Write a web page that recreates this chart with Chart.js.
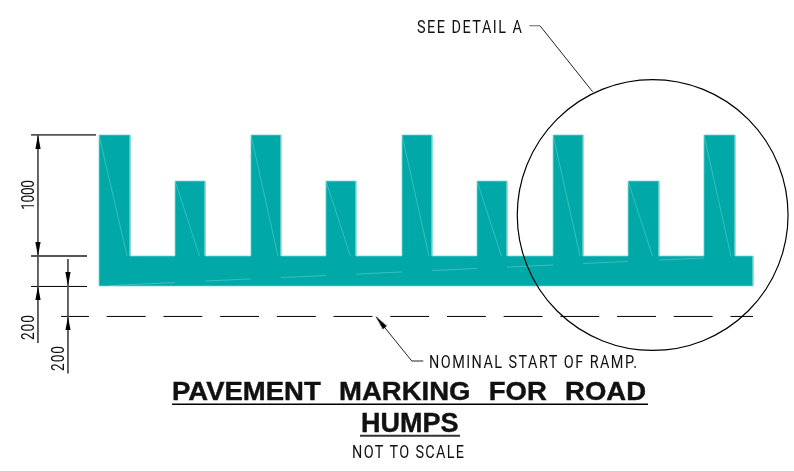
<!DOCTYPE html>
<html>
<head>
<meta charset="utf-8">
<style>
  html, body { margin: 0; padding: 0; background: #fff; }
  canvas { display: block; }
</style>
<script src="https://cdn.jsdelivr.net/npm/chart.js@4"></script>
</head>
<body>
<canvas id="chart" width="794" height="472"></canvas>
<script>
// drawing units: x from the left end of the marking, y from its bottom edge
const toothLeft  = [0, 507, 1013, 1513, 2020, 2520, 3027, 3527, 4033];
const toothRight = [207, 707, 1213, 1713, 2220, 2720, 3227, 3733, 4240];
const toothTop   = [1007, 700, 1007, 700, 1007, 700, 1007, 700, 1007];
const toothSeamFoot = [187, 670, 1193, 1676, 2200, 2683, 3207, 3690, 4213];
const baseTop = 200;
const baseEnd = 4360;

const baseSeamX = [73, 507, null, 707, 1013, null, 1213, 1513, null, 1713, 2020, null, 2220, 2520, null, 2720, 3027, null, 3227, 3527, null, 3733, 4033];
const baseSeamY = [3, 23, null, 33, 47, null, 56, 70, null, 79, 94, null, 103, 117, null, 126, 140, null, 150, 164, null, 173, 187];

const rampX = [-253, 4360];
const rampY = [-203, -203];

const upperExtensionX = [-453, -20, null, -453, -80];
const upperExtensionY = [1007, 1007, null, 200, 200];
const lowerExtensionX = [-453, -80];
const lowerExtensionY = [-3, -3];

const dimOneX = [-407, -407];
const dimOneY = [1007, -380];
const dimTwoX = [-207, -207];
const dimTwoY = [180, -583];

const arrowX = [-407, -407, -407, -207, -207, 1847];
const arrowY = [1007, 200, 0, 0, -203, -205];
const arrowTurn = [0, 180, 0, 180, 0, -39];

const rampLeaderX = [1847, 2085, 2162];
const rampLeaderY = [-205, -500, -500];
const detailStubX = [2869, 2940];
const detailStubY = [1735, 1735];
const detailLeaderX = [2940, 3291];
const detailLeaderY = [1735, 1295];
const detailCircleX = [3691];
const detailCircleY = [473];

const titleRuleX = [487, 3660];
const titleRuleY = [-789, -789];
const humpsRuleX = [1740, 2407];
const humpsRuleY = [-998, -998];
const pageEdgeX = [-660, 4634];
const pageEdgeY = [-1237, -1237];
const baseEdgeX = [0, 4360];
const baseEdgeY = [0, 0];

const noteLabels = ["SEE DETAIL A", "NOMINAL START OF RAMP.", "NOT TO SCALE"];
const noteX = [2120, 2200, 1687];
const noteY = [1690, -547, -1147];
const noteWidth = [105, 208, 112];

const titleLabels = ["PAVEMENT MARKING FOR ROAD", "HUMPS"];
const titleX = [487, 1747];
const titleY = [-763, -973];
const titleWidth = [474, 96];

const dimLabels = ["1000", "200", "200"];
const dimLabelX = [-433, -433, -233];
const dimLabelY = [607, -277, -483];
const dimLabelWidth = [30, 25, 25];

const zip = (xs, ys) => xs.map((x, i) => ({ x: x, y: ys[i] }));

function combOutline() {
    const pts = [{ x: 0, y: 0 }];
    toothLeft.forEach((left, i) => {
        pts.push({ x: left, y: i === 0 ? toothTop[i] : baseTop });
        if (i > 0) pts.push({ x: left, y: toothTop[i] });
        pts.push({ x: toothRight[i], y: toothTop[i] });
        pts.push({ x: toothRight[i], y: baseTop });
    });
    pts.push({ x: baseEnd, y: baseTop }, { x: baseEnd, y: 0 });
    return pts;
}

function toothSeams() {
    const pts = [];
    toothLeft.forEach((left, i) => {
        pts.push({ x: left, y: toothTop[i] }, { x: toothSeamFoot[i], y: baseTop }, { x: null, y: null });
    });
    return pts;
}

// arrow head with its tip in the middle of the image, so the point sits on the tip
function arrowHead() {
    const c = document.createElement("canvas");
    c.width = 8;
    c.height = 28;
    const g = c.getContext("2d");
    g.fillStyle = "#000";
    g.beginPath();
    g.moveTo(4, 14);
    g.lineTo(6.6, 28);
    g.lineTo(1.4, 28);
    g.closePath();
    g.fill();
    return c;
}

function line(data, color, width, extra) {
    return Object.assign({
        data: data,
        showLine: true,
        borderColor: color,
        borderWidth: width,
        pointRadius: 0,
        spanGaps: false,
        clip: false
    }, extra || {});
}

// thin squeezed text, letter spaced out to the width it has in the drawing
function thinText(ctx, text, width, squeeze) {
    ctx.letterSpacing = "0px";
    const w = ctx.measureText(text).width;
    ctx.letterSpacing = ((width / squeeze - w) / (text.length - 1)) + "px";
    ctx.scale(squeeze, 1);
    ctx.fillText(text, 0, 0);
}

const textPlugin = {
    id: "drawingText",
    afterDatasetsDraw(c) {
        const ctx = c.ctx, sx = c.scales.x, sy = c.scales.y;
        ctx.save();
        ctx.fillStyle = "#111";
        ctx.strokeStyle = "#111";
        ctx.textBaseline = "alphabetic";
        ctx.textAlign = "left";

        ctx.font = "400 19px Roboto";
        noteLabels.forEach((t, i) => {
            ctx.save();
            ctx.translate(sx.getPixelForValue(noteX[i]), sy.getPixelForValue(noteY[i]));
            thinText(ctx, t, noteWidth[i], 0.76);
            ctx.restore();
        });

        // first title line is stretched and opened up at the word gaps only
        ctx.save();
        ctx.font = "bold 25px 'Liberation Sans'";
        ctx.translate(sx.getPixelForValue(titleX[0]), sy.getPixelForValue(titleY[0]));
        ctx.scale(1.1, 1);
        ctx.wordSpacing = "0px";
        const gaps = titleLabels[0].split(" ").length - 1;
        ctx.wordSpacing = ((titleWidth[0] / 1.1 - ctx.measureText(titleLabels[0]).width) / gaps) + "px";
        ctx.fillText(titleLabels[0], 0, 0);
        ctx.lineWidth = 0.4;
        ctx.strokeText(titleLabels[0], 0, 0);
        ctx.restore();

        ctx.save();
        ctx.font = "bold 27px 'Liberation Sans'";
        ctx.translate(sx.getPixelForValue(titleX[1]), sy.getPixelForValue(titleY[1]));
        ctx.fillText(titleLabels[1], 0, 0);
        ctx.lineWidth = 0.4;
        ctx.strokeText(titleLabels[1], 0, 0);
        ctx.restore();

        ctx.font = "400 18px Roboto";
        dimLabels.forEach((t, i) => {
            ctx.save();
            ctx.translate(sx.getPixelForValue(dimLabelX[i]), sy.getPixelForValue(dimLabelY[i]));
            ctx.rotate(-Math.PI / 2);
            ctx.translate(-dimLabelWidth[i] / 2, 0);
            thinText(ctx, t, dimLabelWidth[i], 0.76);
            ctx.restore();
        });
        ctx.restore();
    }
};

// chart.js paints the last dataset first, so the teal marking sits at the end
new Chart(document.getElementById("chart"), {
    type: "scatter",
    data: {
        datasets: [
            {
                data: zip(arrowX, arrowY),
                pointStyle: arrowHead(),
                pointRotation: arrowTurn,
                clip: false
            },
            {
                data: zip(detailCircleX, detailCircleY),
                pointRadius: 135.4,
                pointBackgroundColor: "rgba(0,0,0,0)",
                pointBorderColor: "#000",
                pointBorderWidth: 1.2,
                clip: false
            },
            line(zip(pageEdgeX, pageEdgeY), "#cfcfcf", 1),
            line(zip(humpsRuleX, humpsRuleY), "#333", 2),
            line(zip(titleRuleX, titleRuleY), "#000", 1.5),
            line(zip(detailLeaderX, detailLeaderY), "#222", 1),
            line(zip(detailStubX, detailStubY), "#666", 1),
            line(zip(rampLeaderX, rampLeaderY), "#222", 1),
            line(zip(dimTwoX, dimTwoY), "#555", 1.8),
            line(zip(dimOneX, dimOneY), "#555", 1.8),
            line(zip(lowerExtensionX, lowerExtensionY), "#000", 1),
            line(zip(upperExtensionX, upperExtensionY), "#555", 1.8),
            line(zip(rampX, rampY), "#000", 1, { borderDash: [38.9, 17.8], borderDashOffset: 11 }),
            line(zip(baseSeamX, baseSeamY), "rgba(150,225,220,0.5)", 0.8),
            line(toothSeams(), "rgba(150,225,220,0.55)", 0.7),
            line(zip(baseEdgeX, baseEdgeY), "rgba(120,215,210,0.75)", 1),
            line(combOutline(), "rgba(120,215,210,0.75)", 1, { fill: "origin", backgroundColor: "#00a8a8" })
        ]
    },
    options: {
        responsive: false,
        animation: false,
        events: [],
        layout: { padding: 0, autoPadding: false },
        plugins: { legend: { display: false }, tooltip: { enabled: false } },
        scales: {
            x: { type: "linear", display: false, min: -660, max: 4633.33 },
            y: { type: "linear", display: false, min: -1240, max: 1906.67 }
        }
    },
    plugins: [textPlugin]
});
</script>
</body>
</html>
